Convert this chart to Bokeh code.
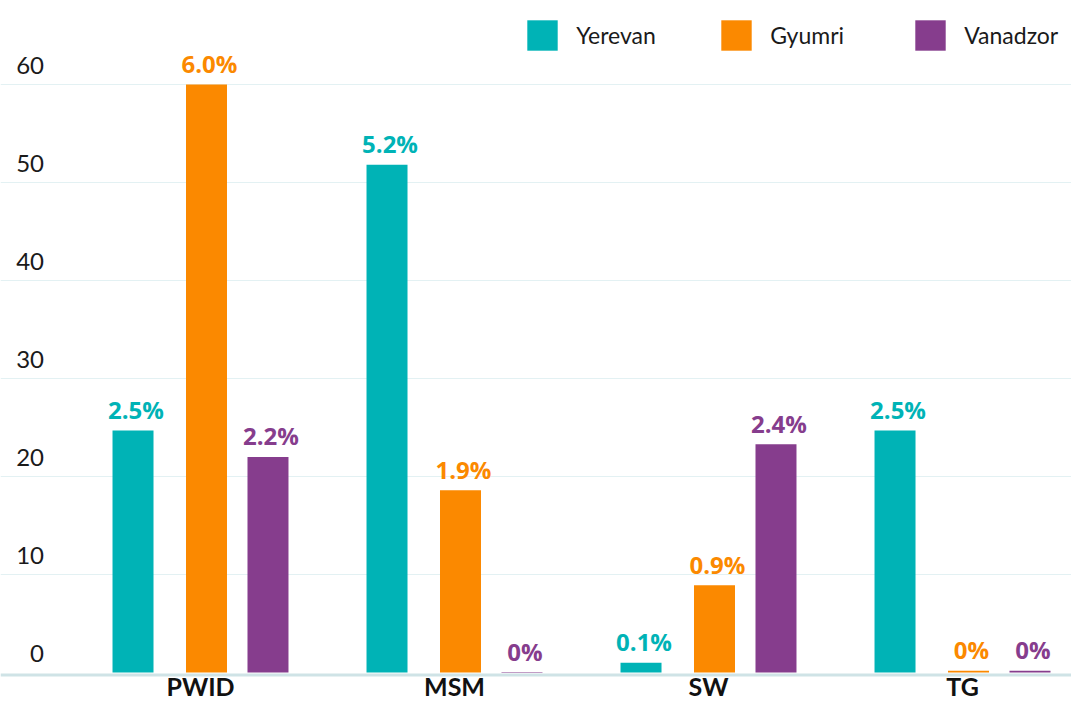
from bokeh.plotting import figure
from bokeh.models import (Range1d, ColumnDataSource, Legend, LegendItem, Grid,
                          FixedTicker, Span)
from bokeh.core.properties import value
from bokeh.embed import file_html
from bokeh.resources import INLINE
import numpy as np

# ---- data ----
categories = ["PWID", "MSM", "SW", "TG"]
cities = ["Yerevan", "Gyumri", "Vanadzor"]
yerevan = [24.7, 51.8, 1.0, 24.7]
gyumri = [60.0, 18.6, 8.9, 0.17]
vanadzor = [22.0, 0.05, 23.3, 0.17]
yerevan_labels = ["2.5%", "5.2%", "0.1%", "2.5%"]
gyumri_labels = ["6.0%", "1.9%", "0.9%", "0%"]
vanadzor_labels = ["2.2%", "0%", "2.4%", "0%"]
y_ticks = [0, 10, 20, 30, 40, 50, 60]

# ---- style ----
colors = ["#00B3B6", "#FB8900", "#863D8D"]
offsets = [-0.2657, 0.0236, 0.2657]
bar_w = 0.1614

W, H = 1071, 701
x0, x1 = -0.7874, 3.4291
y0, y1 = -2.959, 68.571

p = figure(width=W, height=H, x_range=Range1d(x0, x1), y_range=Range1d(y0, y1),
           x_axis_location=None, y_axis_location=None,
           output_backend="svg", toolbar_location=None,
           min_border=0, outline_line_color=None)

# remove default grids, add own horizontal grid
p.center = [c for c in p.center if not isinstance(c, Grid)]
grid = Grid(dimension=1, ticker=FixedTicker(ticks=y_ticks[1:]),
            grid_line_color="#e3f1f3", grid_line_width=1)
p.add_layout(grid)

base = Span(location=-0.26, dimension="width", line_color="#cfe3e6",
            line_width=3, level="underlay")
p.add_layout(base)

series = [yerevan, gyumri, vanadzor]
labels = [yerevan_labels, gyumri_labels, vanadzor_labels]
idx = np.arange(len(categories))

renderers = []
for vals, labs, col, off in zip(series, labels, colors, offsets):
    src = ColumnDataSource(dict(x=idx + off, top=vals, lab=labs))
    r = p.vbar(x="x", top="top", bottom=0, width=bar_w, source=src,
               fill_color=col, line_color=None)
    renderers.append(r)
    p.text(x="x", y="top", text="lab", source=src, x_offset=3, y_offset=-21,
           text_align="center", text_baseline="alphabetic",
           text_font=value("Open Sans"), text_font_style="bold",
           text_font_size="24px", text_color=col)

# y tick labels (above gridlines, at the left)
ysrc = ColumnDataSource(dict(y=y_ticks, t=[str(v) for v in y_ticks],
                             x=[x0] * len(y_ticks)))
p.text(x="x", y="y", text="t", source=ysrc, x_offset=43.5, y_offset=-19,
       text_align="right", text_baseline="alphabetic",
       text_font=value("Lato"), text_font_size="24px", text_color="#1a1a1a")

# category labels
csrc = ColumnDataSource(dict(x=idx, y=[0] * len(categories), t=categories))
p.text(x="x", y="y", text="t", source=csrc, y_offset=13,
       text_align="center", text_baseline="alphabetic",
       text_font=value("Lato"), text_font_style="bold",
       text_font_size="25px", text_color="#111111")

# legends: three single-item legends, evenly spaced
legend_x = [523.2, 717.2, 911.2]
for name, r, lx in zip(cities, renderers, legend_x):
    lg = Legend(items=[LegendItem(label=name, renderers=[r])],
                location=(lx, H - 16.2 - 38), orientation="horizontal",
                glyph_width=38, glyph_height=38, label_standoff=15,
                label_text_font="Lato", label_text_font_size="23px",
                label_text_color="#1a1a1a",
                padding=0, margin=0, spacing=0,
                border_line_alpha=0, background_fill_alpha=0)
    p.add_layout(lg)

open("out.html", "w").write(file_html(p, INLINE))
